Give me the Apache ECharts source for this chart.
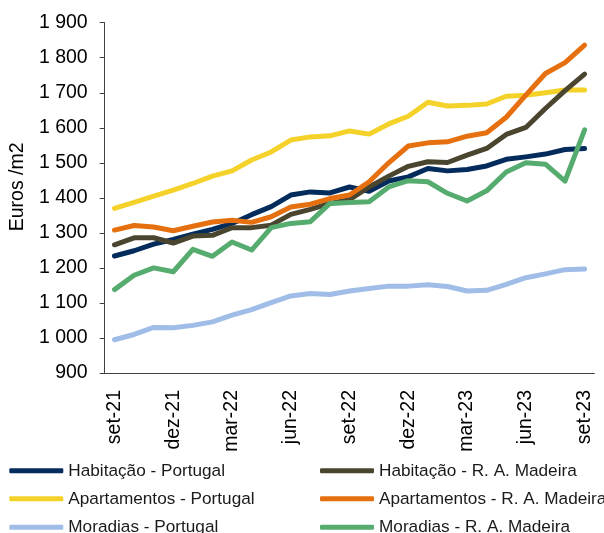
<!DOCTYPE html>
<html>
<head>
<meta charset="utf-8">
<script src="https://cdn.jsdelivr.net/npm/echarts@6/dist/echarts.min.js"></script>
<style>
html,body{margin:0;padding:0;background:#fff;}
#chart{width:604px;height:533px;}
</style>
</head>
<body>
<div id="chart"></div>
<script>
const categories = ['set-21','out-21','nov-21','dez-21','jan-22','fev-22','mar-22','abr-22','mai-22','jun-22','jul-22','ago-22','set-22','out-22','nov-22','dez-22','jan-23','fev-23','mar-23','abr-23','mai-23','jun-23','jul-23','ago-23','set-23'];
const habitacaoPortugal = [1234,1249,1268,1281,1296,1310,1327,1352,1375,1408,1417,1414,1431,1419,1448,1460,1484,1477,1481,1491,1510,1517,1525,1538,1541];
const habitacaoMadeira = [1266,1286,1286,1271,1291,1293,1315,1315,1322,1353,1367,1384,1395,1431,1462,1490,1503,1501,1522,1541,1581,1601,1655,1706,1753];
const apartamentosPortugal = [1370,1387,1405,1422,1441,1462,1477,1508,1531,1565,1574,1577,1591,1582,1611,1633,1673,1662,1664,1668,1690,1693,1700,1708,1708];
const apartamentosMadeira = [1308,1321,1317,1306,1319,1331,1336,1330,1346,1374,1382,1398,1408,1446,1500,1548,1557,1560,1576,1586,1630,1693,1755,1786,1836];
const moradiasPortugal = [995,1010,1030,1029,1036,1046,1065,1081,1101,1120,1127,1124,1134,1141,1148,1148,1152,1147,1134,1136,1153,1172,1183,1195,1197];
const moradiasMadeira = [1138,1179,1200,1189,1253,1233,1274,1251,1315,1327,1332,1384,1387,1389,1431,1449,1446,1413,1391,1420,1474,1500,1496,1448,1594];
const yMin = 900, yMax = 1900, yStep = 100;

const FONT = '"Liberation Sans", Arial, sans-serif';
const chart = echarts.init(document.getElementById('chart'), null, {renderer: 'canvas'});

function mk(name, data, color) {
  return {
    name: name, type: 'line', data: data, symbol: 'none',
    lineStyle: {width: 5, color: color, cap: 'round', join: 'round'},
    itemStyle: {color: color}, animation: false
  };
}

const series = [
  mk('Apartamentos - Portugal', apartamentosPortugal, '#f4d22a'),
  mk('Moradias - Portugal', moradiasPortugal, '#9fbde6'),
  mk('Habitação - Portugal', habitacaoPortugal, '#032b5c'),
  mk('Habitação - R. A. Madeira', habitacaoMadeira, '#4a452e'),
  mk('Apartamentos - R. A. Madeira', apartamentosMadeira, '#e6700f'),
  mk('Moradias - R. A. Madeira', moradiasMadeira, '#56ab6e')
];

function leg(name, left, centerY) {
  return {
    orient: 'horizontal', left: left, top: centerY - 8.7, itemWidth: 54, itemHeight: 5,
    icon: 'roundRect', padding: 0,
    textStyle: {fontFamily: FONT, fontSize: 17.2, color: '#1a1a1a'},
    selectedMode: false, data: [name]
  };
}

chart.setOption({
  backgroundColor: '#ffffff',
  animation: false,
  grid: {left: 102.7, right: 9.6, top: 22.7, bottom: 160, containLabel: false},
  legend: [
    leg('Habitação - Portugal', 9.3, 471),
    leg('Apartamentos - Portugal', 9.3, 499),
    leg('Moradias - Portugal', 9.3, 527.5),
    leg('Habitação - R. A. Madeira', 320, 471),
    leg('Apartamentos - R. A. Madeira', 320, 499),
    leg('Moradias - R. A. Madeira', 320, 527.5)
  ],
  xAxis: {
    type: 'category', data: categories, boundaryGap: true,
    axisLine: {lineStyle: {color: '#404040', width: 1}},
    axisTick: {interval: 2, length: 5, lineStyle: {color: '#404040'}},
    axisLabel: {interval: 2, rotate: 90, margin: 17, fontFamily: FONT, fontSize: 19.5, color: '#000'},
    splitLine: {show: false}
  },
  yAxis: {
    type: 'value', min: yMin, max: yMax, interval: yStep,
    name: 'Euros /m2', nameLocation: 'middle', nameGap: 74, nameRotate: 90,
    nameTextStyle: {fontFamily: FONT, fontSize: 19.5, color: '#000', padding: [0,0,0,22]},
    axisLine: {show: true, lineStyle: {color: '#404040', width: 1}},
    axisTick: {show: true, length: 5, lineStyle: {color: '#404040'}},
    axisLabel: {margin: 17, fontFamily: FONT, fontSize: 19.5, color: '#000',
      formatter: function (v) { return v >= 1000 ? Math.floor(v/1000) + ' ' + String(v%1000).padStart(3,'0') : String(v); }},
    splitLine: {show: false}
  },
  series: series
});
</script>
</body>
</html>
